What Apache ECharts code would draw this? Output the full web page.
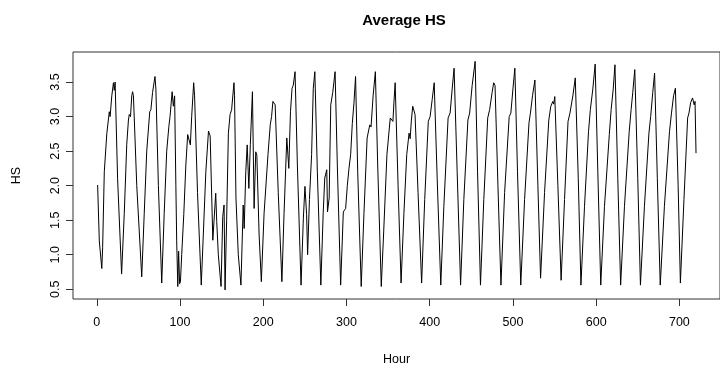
<!DOCTYPE html>
<html>
<head>
<meta charset="utf-8">
<title>Average HS</title>
<script src="https://cdn.jsdelivr.net/npm/echarts@6/dist/echarts.min.js"></script>
<style>
  html, body { margin: 0; padding: 0; background: #fff; }
  #chart { width: 720px; height: 371px; }
</style>
</head>
<body>
<div id="chart"></div>
<script>
// vertices of the hourly series (hour, HS)
const hours = [
  1, 3, 6, 7, 9, 12, 15, 16, 18, 20, 21, 22, 25,
  29.8, 33, 36, 38, 39, 40.5, 42, 43, 44, 48,
  54, 57, 60, 63.6, 65, 67, 69.9, 71, 74,
  78, 81, 84, 86.6, 88, 90.5, 92, 93.5, 95, 96, 97.3, 98.3, 99.5,
  100.5, 102, 104.5, 107, 109.2, 112.4, 114, 116.4, 117.5, 121,
  125.5, 128, 131, 134.2, 136.2, 139.4, 142.9, 144.1, 146, 149.3, 151.3, 152.9,
  154.1, 156, 158.1, 160.1, 162, 164.8, 165.5, 167.2, 170,
  173.2, 175.9, 177.1, 179, 180.7, 182.7, 184.5, 187, 189, 191, 192.3, 195,
  197.7, 201, 205.7, 208.4, 210, 211.6, 214.3, 218,
  222.4, 225, 228.3, 230.7, 232.7, 234.6, 236, 238.2, 241,
  245.4, 248.2, 250.1, 252.1, 253.3, 255.5, 258.1, 260.1, 262, 265,
  269.2, 272, 273.9, 276.3, 277.2, 279.2, 281.1, 283.5, 286.3, 289,
  293, 296.2, 299, 301, 303, 305, 307, 309, 310.9, 313.5,
  317.7, 321, 324.8, 328, 329.5, 332, 334.7, 337.5,
  341.8, 344.7, 348.6, 352.6, 355.8, 357, 358.5, 362,
  365.6, 369, 372.4, 375.2, 376.5, 378, 379.6, 382.4, 386,
  390.3, 394, 398.3, 400.5, 403, 405.4, 409,
  413.3, 417, 422.1, 424.5, 427, 429.3, 433,
  437.1, 441, 445.9, 448, 451, 454.6, 457.5,
  461, 465, 469.7, 472, 475, 476.9, 478.5, 482,
  485.6, 490, 495.5, 497.5, 500, 502.3, 505.5,
  509.4, 514, 519.3, 521, 523.5, 526.4, 530,
  533.2, 538, 543.1, 545.5, 548, 549, 550.3, 554,
  557.9, 562, 566.2, 568.5, 572, 574.9, 578.5,
  581.7, 586, 590.8, 593, 596, 598.8, 602,
  605.5, 610, 615.8, 618, 620.5, 622.6, 626,
  629.4, 634, 639.7, 642, 644, 646.4, 650,
  653.2, 658, 663.4, 665.5, 668, 670.2, 673.5,
  677, 682, 688.1, 690.5, 693, 695.2, 698.5,
  701.2, 705.5, 709.9, 711.5, 713.5, 715.8, 717.8, 718.8, 720
];
const hs = [
  2.01, 1.2, 0.80, 1.1, 2.2, 2.75, 3.07, 3.0, 3.3, 3.49, 3.38, 3.5, 2.1,
  0.72, 1.6, 2.6, 2.95, 3.03, 3.0, 3.3, 3.36, 3.3, 2.0,
  0.68, 1.6, 2.5, 3.07, 3.1, 3.35, 3.58, 3.4, 2.0,
  0.59, 1.6, 2.5, 2.86, 3.0, 3.36, 3.15, 3.3, 2.0, 1.2, 0.54, 1.05, 0.58,
  0.61, 1.0, 1.58, 2.3, 2.74, 2.59, 3.0, 3.49, 3.3, 1.9,
  0.56, 1.3, 2.2, 2.79, 2.72, 1.21, 1.89, 1.48, 1.0, 0.54, 1.55, 1.72,
  0.49, 1.5, 2.76, 3.03, 3.1, 3.49, 3.3, 1.82, 1.0,
  0.56, 1.72, 1.38, 2.2, 2.59, 1.96, 2.6, 3.36, 1.67, 2.49, 2.44, 1.3,
  0.61, 1.6, 2.45, 2.88, 3.0, 3.22, 3.17, 1.9,
  0.61, 1.6, 2.69, 2.25, 3.07, 3.41, 3.45, 3.65, 2.3,
  0.56, 1.53, 1.99, 1.58, 1.0, 1.8, 2.45, 3.41, 3.65, 2.2,
  0.56, 1.6, 2.11, 2.23, 1.62, 1.82, 3.17, 3.35, 3.65, 2.3,
  0.56, 1.62, 1.67, 2.0, 2.25, 2.45, 2.9, 3.2, 3.58, 2.2,
  0.54, 1.6, 2.69, 2.88, 2.85, 3.3, 3.65, 2.3,
  0.54, 1.33, 2.45, 2.98, 2.93, 3.2, 3.49, 2.0,
  0.59, 1.6, 2.45, 2.76, 2.68, 2.95, 3.15, 3.03, 1.9,
  0.59, 1.8, 2.93, 3.0, 3.25, 3.49, 2.1,
  0.56, 1.7, 2.98, 3.05, 3.4, 3.7, 2.2,
  0.56, 1.8, 2.95, 3.05, 3.45, 3.8, 2.2,
  0.56, 1.8, 2.98, 3.1, 3.35, 3.49, 3.45, 2.0,
  0.56, 1.9, 3.0, 3.05, 3.4, 3.7, 2.2,
  0.56, 1.8, 2.91, 3.05, 3.3, 3.53, 2.0,
  0.66, 1.9, 2.95, 3.15, 3.22, 3.18, 3.29, 2.0,
  0.63, 1.8, 2.93, 3.05, 3.3, 3.56, 2.1,
  0.56, 1.7, 2.78, 3.1, 3.4, 3.76, 2.2,
  0.56, 1.7, 2.74, 3.1, 3.4, 3.75, 2.1,
  0.56, 1.7, 2.78, 3.1, 3.35, 3.68, 2.1,
  0.56, 1.7, 2.76, 3.0, 3.35, 3.63, 2.1,
  0.56, 1.7, 2.78, 3.05, 3.3, 3.41, 2.0,
  0.59, 1.8, 2.98, 3.05, 3.2, 3.27, 3.17, 3.22, 2.47
];
const xTicks = [0, 100, 200, 300, 400, 500, 600, 700];
const yTicks = [0.5, 1.0, 1.5, 2.0, 2.5, 3.0, 3.5];

const chart = echarts.init(document.getElementById("chart"), null, { renderer: "canvas" });
const font = "'Liberation Sans', Arial, sans-serif";

chart.setOption({
  animation: false,
  backgroundColor: "#fff",
  title: {
    text: "Average HS",
    left: 399,
    top: 8,
    textAlign: "center",
    textStyle: { fontFamily: font, fontSize: 15, fontWeight: "bold", color: "#000" }
  },
  grid: {
    left: 73,
    top: 52,
    width: 653,
    height: 247,
    show: true,
    borderColor: "#333",
    borderWidth: 1,
    backgroundColor: "transparent"
  },
  xAxis: {
    type: "value",
    min: -28.6,
    max: 748.8,
    name: "Hour",
    nameLocation: "middle",
    nameGap: 54,
    nameTextStyle: { fontFamily: font, fontSize: 12.5, color: "#000" },
    axisLine: { show: false, onZero: false },
    axisTick: { show: true, inside: false, length: 7, customValues: xTicks, lineStyle: { color: "#333" } },
    axisLabel: { customValues: xTicks, margin: 17, fontFamily: font, fontSize: 12.5, color: "#000" },
    splitLine: { show: false }
  },
  yAxis: {
    type: "value",
    min: 0.359,
    max: 3.935,
    name: "HS",
    nameLocation: "middle",
    nameRotate: 90,
    nameGap: 50,
    nameTextStyle: { fontFamily: font, fontSize: 12.5, color: "#000" },
    axisLine: { show: false, onZero: false },
    axisTick: { show: true, inside: false, length: 7, customValues: yTicks, lineStyle: { color: "#333" } },
    axisLabel: {
      customValues: yTicks,
      rotate: 90,
      margin: 11,
      fontFamily: font,
      fontSize: 12.5,
      color: "#000",
      formatter: (v) => v.toFixed(1)
    },
    splitLine: { show: false }
  },
  series: [
    {
      type: "line",
      data: hours.map((h, i) => [h, hs[i]]),
      showSymbol: false,
      symbol: "none",
      lineStyle: { color: "#000", width: 1 },
      clip: true
    }
  ]
});
</script>
</body>
</html>
